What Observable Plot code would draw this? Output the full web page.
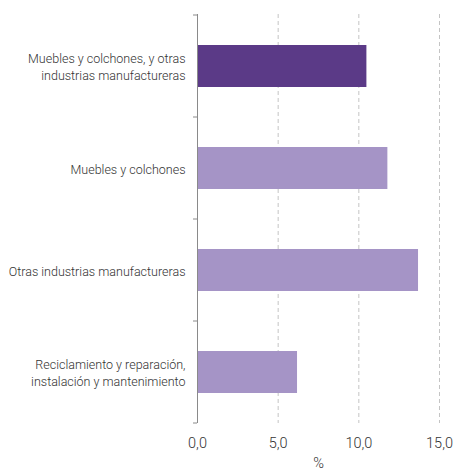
<!DOCTYPE html>
<html>
<head>
<meta charset="utf-8">
<script src="https://cdn.jsdelivr.net/npm/d3@7"></script>
<script src="https://cdn.jsdelivr.net/npm/@observablehq/plot@0.6"></script>
<style>
  html, body { margin: 0; padding: 0; background: #fff; }
  #chart svg { font-family: Roboto, "Liberation Sans", Arial, sans-serif; font-weight: 300; }
</style>
</head>
<body>
<div id="chart"></div>
<script>
const categories = [
  "Muebles y colchones, y otras industrias manufactureras",
  "Muebles y colchones",
  "Otras industrias manufactureras",
  "Reciclamiento y reparación, instalación y mantenimiento"
];
const labels = [
  "Muebles y colchones, y otras\nindustrias manufactureras",
  "Muebles y colchones",
  "Otras industrias manufactureras",
  "Reciclamiento y reparación,\ninstalación y mantenimiento"
];
const values = [10.5, 11.8, 13.7, 6.2];
const highlight = [true, false, false, false];
const xTicks = [0, 5, 10, 15];
const gridTicks = [5, 10, 15];

const data = categories.map((c, i) => ({cat: c, label: labels[i], value: values[i], hi: highlight[i]}));

function boundaryTicks(index, scales, values, dims) {
  const y = scales.y, x = scales.x;
  const bw = y.bandwidth ? y.bandwidth() : 0;
  const ys = categories.map(c => y(c)).concat([y(categories[categories.length - 1]) + bw]);
  const g = d3.create("svg:g");
  const x0 = x(0);
  for (const yy of ys) {
    g.append("line").attr("x1", x0 - 4).attr("x2", x0).attr("y1", yy).attr("y2", yy)
      .attr("stroke", "#8a8a8a").attr("stroke-width", 1);
  }
  return g.node();
}

const chart = Plot.plot({
  width: 454,
  height: 470,
  marginLeft: 197,
  marginRight: 15,
  marginTop: 14,
  marginBottom: 47,
  style: {fontSize: "13px", color: "#404040"},
  x: {domain: [0, 15]},
  y: {domain: categories, padding: 0},
  marks: [
    Plot.gridX(gridTicks, {stroke: "#c4c4c4", strokeOpacity: 1, strokeDasharray: "4,3"}),
    Plot.barX(data, {y: "cat", x: "value", fill: d => d.hi ? "#5b3a87" : "#a594c6", insetTop: 30, insetBottom: 30}),
    Plot.ruleX([0], {stroke: "#8a8a8a"}),
    boundaryTicks,
    Plot.text(data, {y: "cat", x: 0, text: "label", textAnchor: "end", dx: -12, lineHeight: 1.35, fill: "#333", fontSize: 12.5}),
    Plot.axisX(xTicks, {tickSize: 0, tickPadding: 14, tickFormat: d => d.toFixed(1).replace(".", ","), fill: "#333", fontSize: 14.5, label: "%", labelAnchor: "center", labelArrow: "none", labelOffset: 44}),
    Plot.axisY({ticks: [], label: null})
  ]
});
document.getElementById("chart").appendChild(chart);
</script>
</body>
</html>
